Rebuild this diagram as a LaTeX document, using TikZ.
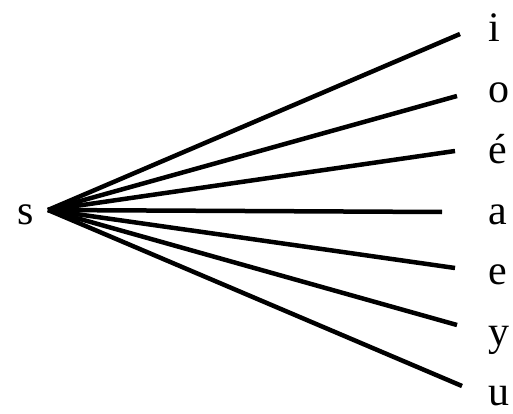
\documentclass[tikz,border=0pt]{standalone}
\usepackage{fontspec}
\setmainfont{Liberation Serif}
\begin{document}
\begin{tikzpicture}[x=1pt,y=-1pt,
  letter/.style={anchor=base west, inner sep=0pt, font=\fontsize{42}{44}\selectfont},
  ray/.style={line width=4.5pt}]
\useasboundingbox (0,0) rectangle (513,414);
\node[letter, anchor=base east] (s) at (34,224) {s};
\coordinate (hub) at (48,210);
\node[letter] (li) at (488,42) {i};
\node[letter] (lo) at (488,103) {o};
\node[letter] (le1) at (488,163) {é};
\node[letter] (la) at (488,224) {a};
\node[letter] (le2) at (488,284) {e};
\node[letter] (ly) at (488,345) {y};
\node[letter] (lu) at (488,405) {u};
\coordinate (ei) at (460,34);
\coordinate (eo) at (457,96);
\coordinate (ee1) at (455,151);
\coordinate (ea) at (442,212);
\coordinate (ee2) at (455,268);
\coordinate (ey) at (457,325);
\coordinate (eu) at (462,386);
\draw[ray] (hub) -- (ei);
\draw[ray] (hub) -- (eo);
\draw[ray] (hub) -- (ee1);
\draw[ray] (hub) -- (ea);
\draw[ray] (hub) -- (ee2);
\draw[ray] (hub) -- (ey);
\draw[ray] (hub) -- (eu);
\end{tikzpicture}
\end{document}
